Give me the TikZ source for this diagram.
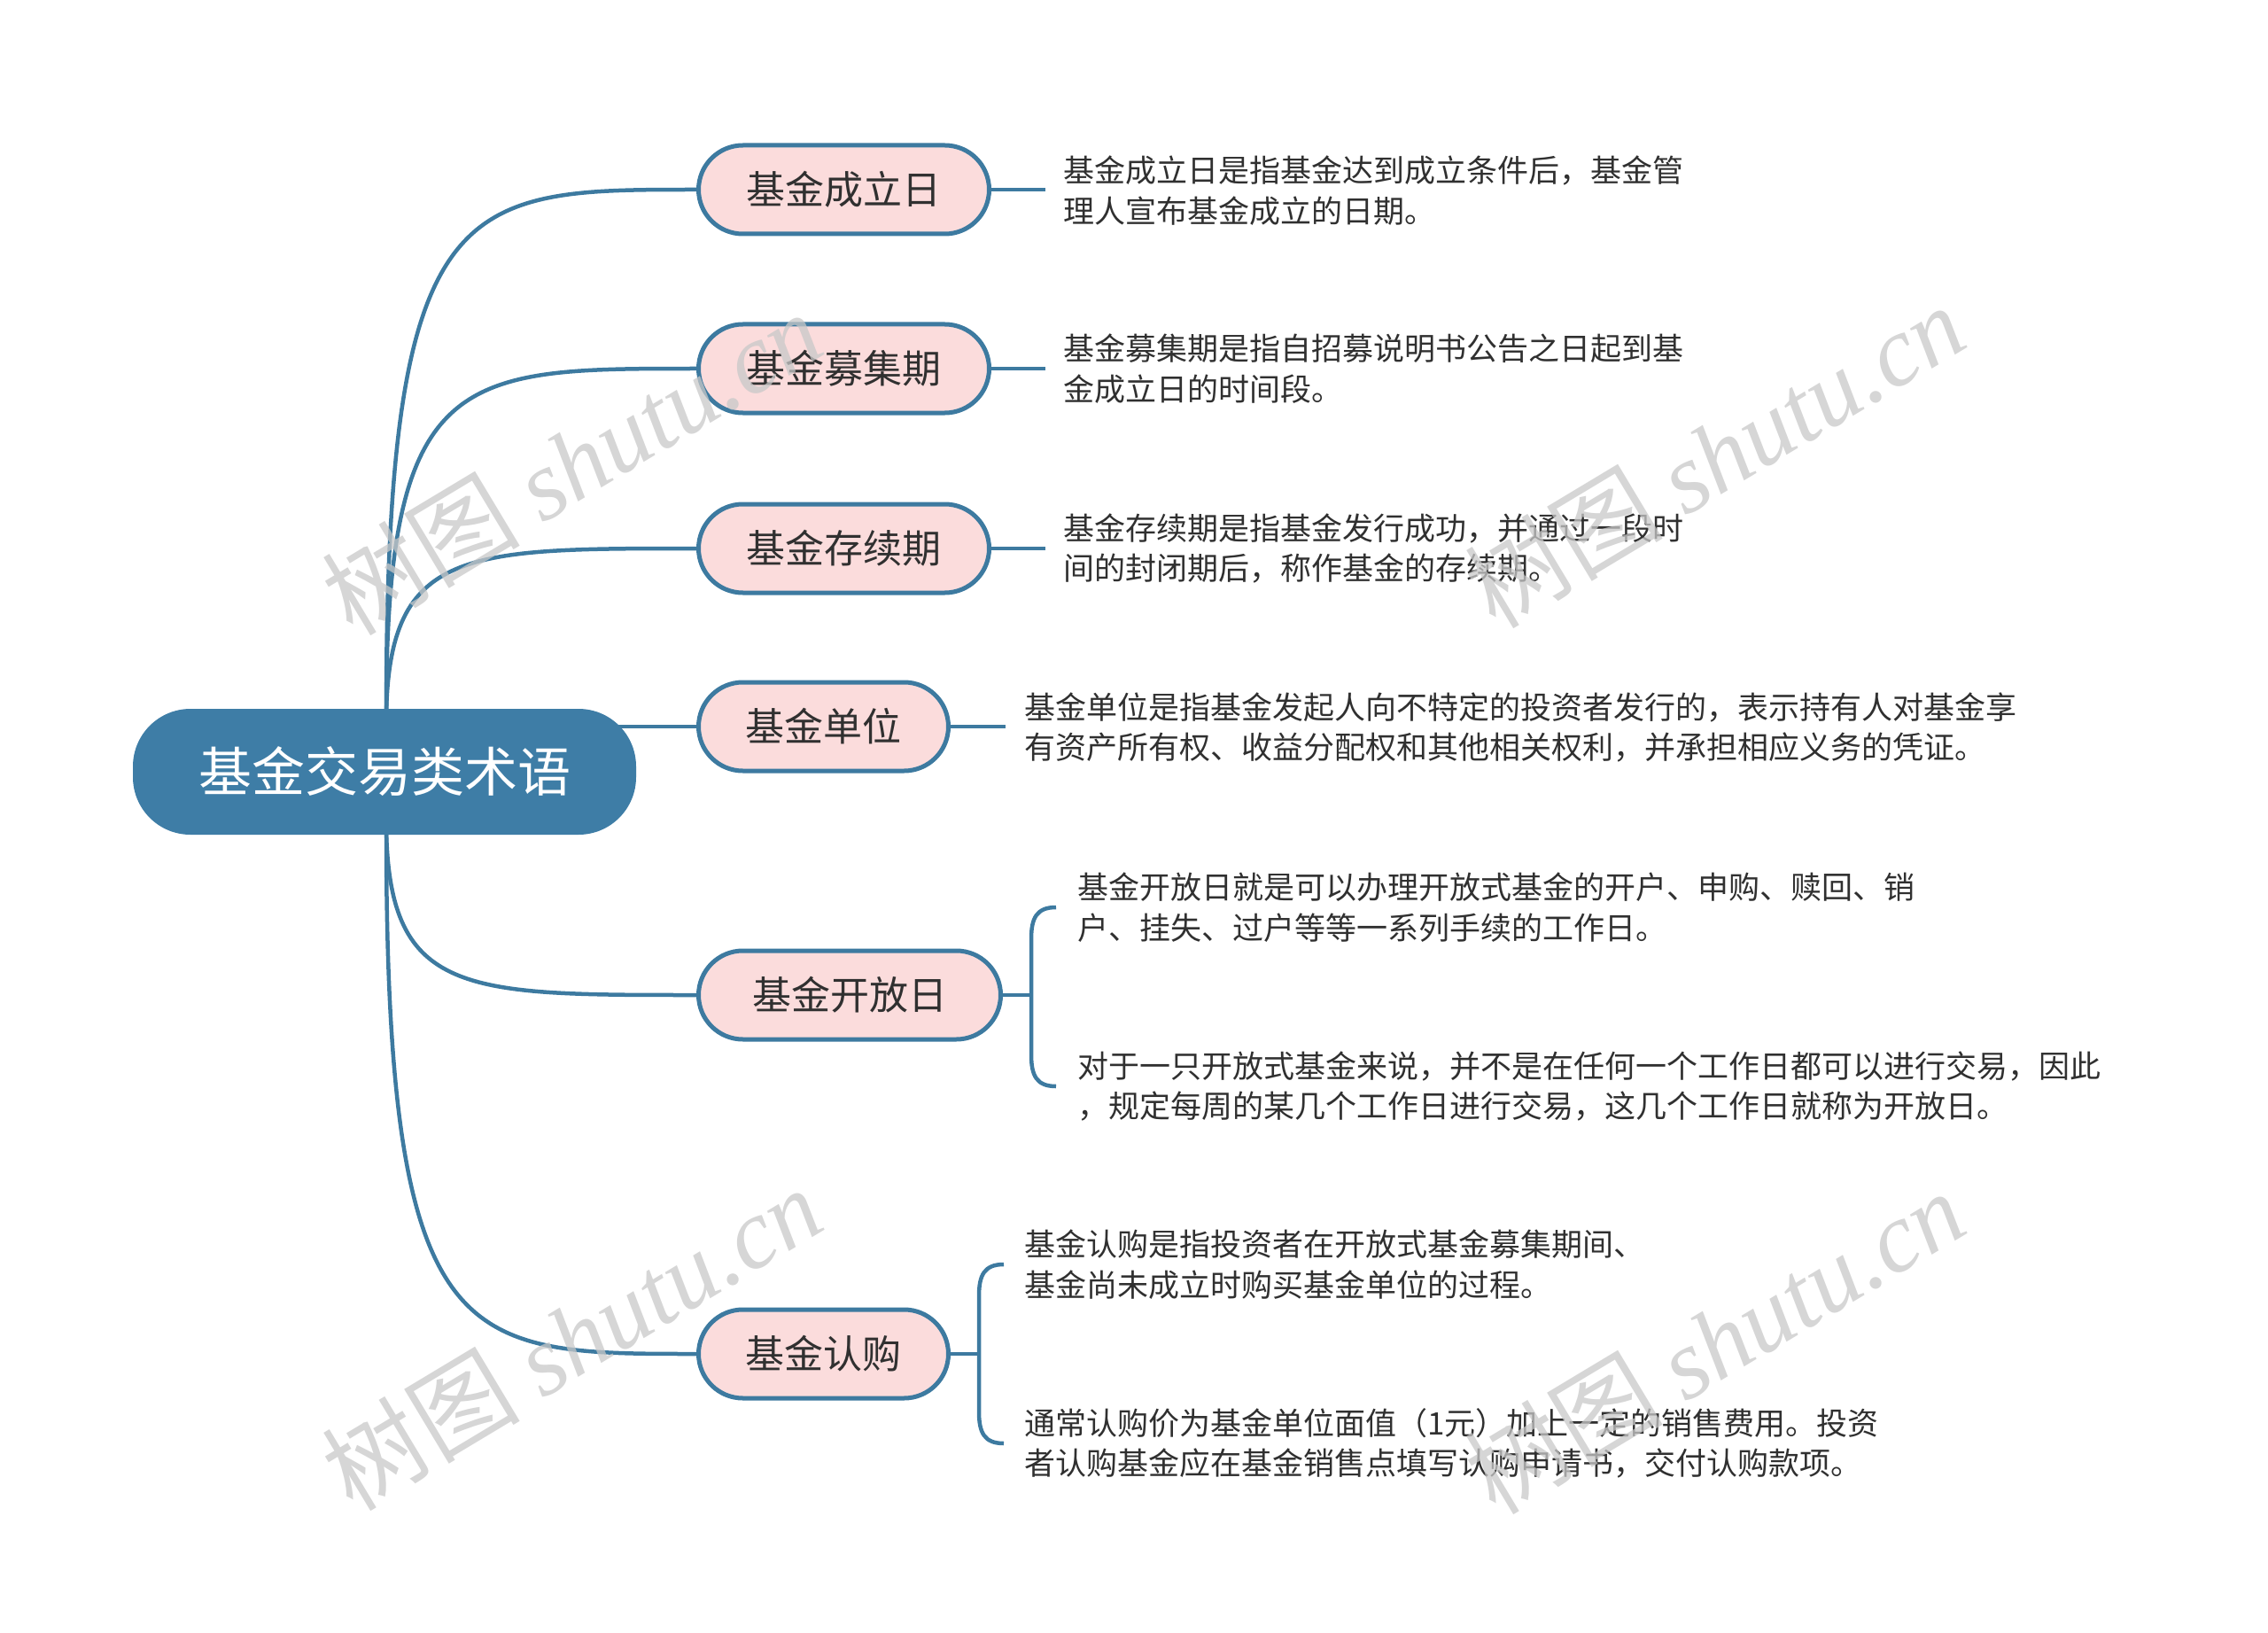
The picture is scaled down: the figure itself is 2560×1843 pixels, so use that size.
\documentclass[tikz,border=0pt]{standalone}
\usepackage{fontspec}
\setmainfont{Noto Sans CJK SC}
\newfontfamily\wmlatin{Liberation Serif}
\usetikzlibrary{backgrounds}
\definecolor{mainblue}{HTML}{3E7DA6}
\definecolor{linkblue}{HTML}{3D7AA0}
\definecolor{pinkfill}{HTML}{FBDCDC}
\definecolor{txtgray}{HTML}{303030}
\definecolor{wmgray}{HTML}{C8C8C8}
\tikzset{
  rootbox/.style={rectangle, rounded corners=65pt, fill=mainblue, minimum width=568pt, minimum height=142pt, text=white, font=\fontsize{60}{70}\selectfont, inner sep=0pt},
  childbox/.style={rectangle, rounded corners=50pt, fill=pinkfill, draw=linkblue, line width=5pt, minimum height=100pt, font=\fontsize{44}{52}\selectfont, text=txtgray, inner sep=0pt, anchor=west},
  leaftext/.style={anchor=west, align=left, font=\fontsize{35}{45.7}\selectfont, text=txtgray, inner sep=0pt},
  link/.style={draw=linkblue, line width=4.5pt},
  wmark/.style={text=wmgray, opacity=0.75, rotate=31, font=\fontsize{112}{120}\selectfont, inner sep=0pt}
}
\begin{document}
\begin{tikzpicture}[x=1pt,y=-1pt]
\useasboundingbox (0,0) rectangle (2560,1843);
% root
\node[rootbox] (root) at (434,871) {基金交易类术语};
% children
\node[childbox, minimum width=328pt] (c1) at (786,214) {基金成立日};
\node[childbox, minimum width=328pt] (c2) at (786,416) {基金募集期};
\node[childbox, minimum width=328pt] (c3) at (786,619) {基金存续期};
\node[childbox, minimum width=282pt] (c4) at (786,820) {基金单位};
\node[childbox, minimum width=341pt] (c5) at (786,1123) {基金开放日};
\node[childbox, minimum width=282pt] (c6) at (786,1528) {基金认购};
% leaves
\node[leaftext] (t1) at (1200,215) {基金成立日是指基金达到成立条件后，基金管\\理人宣布基金成立的日期。};
\node[leaftext] (t2) at (1200,416) {基金募集期是指自招募说明书公告之日起到基\\金成立日的时间段。};
\node[leaftext] (t3) at (1200,619) {基金存续期是指基金发行成功，并通过一段时\\间的封闭期后，称作基金的存续期。};
\node[leaftext] (t4) at (1156,821) {基金单位是指基金发起人向不特定的投资者发行的，表示持有人对基金享\\有资产所有权、收益分配权和其他相关权利，并承担相应义务的凭证。};
\node[leaftext] (t5a) at (1216,1024) {基金开放日就是可以办理开放式基金的开户、申购、赎回、销\\户、挂失、过户等等一系列手续的工作日。};
\node[leaftext] (t5b) at (1216,1226) {对于一只开放式基金来说，并不是在任何一个工作日都可以进行交易，因此\\，规定每周的某几个工作日进行交易，这几个工作日就称为开放日。};
\node[leaftext] (t6a) at (1156,1427) {基金认购是指投资者在开放式基金募集期间、\\基金尚未成立时购买基金单位的过程。};
\node[leaftext] (t6b) at (1156,1629) {通常认购价为基金单位面值（1元）加上一定的销售费用。投资\\者认购基金应在基金销售点填写认购申请书，交付认购款项。};
% coordinates
\coordinate (rtop) at (436,805);
\coordinate (rbot) at (436,937);
\coordinate (e1) at (1180,214);
\coordinate (e2) at (1180,416);
\coordinate (e3) at (1180,619);
\coordinate (e4) at (1135,820);
\coordinate (b5) at (1164,1123);
\coordinate (b5t) at (1192,1024);
\coordinate (b5b) at (1192,1226);
\coordinate (b6) at (1105,1528);
\coordinate (b6t) at (1133,1427);
\coordinate (b6b) at (1133,1629);
\begin{scope}[on background layer]
\draw[link] (rtop) .. controls (436,214) and (520,214) .. (c1.west);
\draw[link] (rtop) .. controls (436,416) and (520,416) .. (c2.west);
\draw[link] (rtop) .. controls (440,619) and (525,619) .. (c3.west);
\draw[link] (c4.west) -- (root.center |- c4.west);
\draw[link] (rbot) .. controls (440,1123) and (525,1123) .. (c5.west);
\draw[link] (rbot) .. controls (436,1528) and (520,1528) .. (c6.west);
\draw[link] (c1.east) -- (e1);
\draw[link] (c2.east) -- (e2);
\draw[link] (c3.east) -- (e3);
\draw[link] (c4.east) -- (e4);
\draw[link] (c5.east) -- (b5);
\draw[link] (b5t) .. controls (1170,1024) and (1164,1036) .. (1164,1060) -- (1164,1190) .. controls (1164,1214) and (1170,1226) .. (b5b);
\draw[link] (c6.east) -- (b6);
\draw[link] (b6t) .. controls (1111,1427) and (1105,1439) .. (1105,1463) -- (1105,1593) .. controls (1105,1617) and (1111,1629) .. (b6b);
\end{scope}
% watermarks
\node[wmark] (w1) at (645,522) {树图 {\wmlatin\itshape shutu.cn}};
\node[wmark] (w2) at (1935,514) {树图 {\wmlatin\itshape shutu.cn}};
\node[wmark] (w3) at (645,1510) {树图 {\wmlatin\itshape shutu.cn}};
\node[wmark] (w4) at (1935,1514) {树图 {\wmlatin\itshape shutu.cn}};
\end{tikzpicture}
\end{document}
